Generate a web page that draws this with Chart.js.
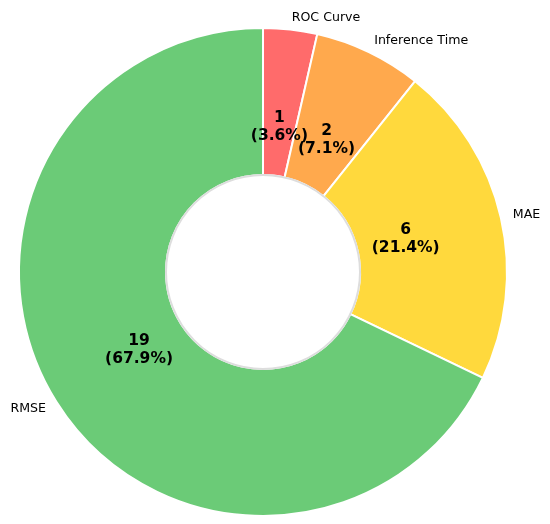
<!DOCTYPE html>
<html>
<head>
<meta charset="utf-8">
<script src="https://cdn.jsdelivr.net/npm/chart.js@4"></script>
<style>
  html, body { margin: 0; padding: 0; background: #fff; }
  #wrap { width: 550px; height: 524px; }
</style>
</head>
<body>
<div id="wrap"><canvas id="chart" width="550" height="524"></canvas></div>
<script>
const labels = ["ROC Curve", "Inference Time", "MAE", "RMSE"];
const counts = [1, 2, 6, 19];
const colors = ["#FF6B6B", "#FFA94D", "#FFD93D", "#6BCB77"];

const total = counts.reduce((a, b) => a + b, 0);

// labels outside the ring + count/percent inside each wedge
const sliceLabels = {
  id: "sliceLabels",
  afterDatasetsDraw(chart) {
    const ctx = chart.ctx;
    const meta = chart.getDatasetMeta(0);
    meta.data.forEach((arc, i) => {
      const mid = (arc.startAngle + arc.endAngle) / 2;
      const cos = Math.cos(mid), sin = Math.sin(mid);
      const R = arc.outerRadius;

      // outer category label
      const lx = arc.x + cos * R * 1.05;
      const ly = arc.y + sin * R * 1.05;
      ctx.save();
      ctx.font = "12.6px 'DejaVu Sans'";
      ctx.fillStyle = "#000";
      ctx.textBaseline = "middle";
      ctx.textAlign = cos >= 0 ? "left" : "right";
      ctx.fillText(labels[i], lx, ly);

      // inner value label
      const vx = arc.x + cos * R * 0.6;
      const vy = arc.y + sin * R * 0.6;
      const pct = (counts[i] / total * 100).toFixed(1);
      ctx.font = "bold 15.5px 'DejaVu Sans'";
      ctx.textAlign = "center";
      ctx.fillText(String(counts[i]), vx, vy - 9);
      ctx.fillText("(" + pct + "%)", vx, vy + 9);
      ctx.restore();
    });

    // white centre disc with grey rim
    const a = meta.data[0];
    ctx.save();
    ctx.beginPath();
    ctx.arc(a.x, a.y, a.innerRadius, 0, Math.PI * 2);
    ctx.fillStyle = "#fff";
    ctx.fill();
    ctx.lineWidth = 2;
    ctx.strokeStyle = "#dddddd";
    ctx.stroke();
    ctx.restore();
  }
};

new Chart(document.getElementById("chart"), {
  type: "doughnut",
  data: {
    labels: labels,
    datasets: [{
      data: counts,
      backgroundColor: colors,
      borderColor: "#ffffff",
      borderWidth: 2
    }]
  },
  options: {
    responsive: false,
    animation: false,
    cutout: 97,
    layout: { padding: { left: 18, right: 42, top: 27, bottom: 7 } },
    plugins: {
      legend: { display: false },
      tooltip: { enabled: false }
    }
  },
  plugins: [sliceLabels]
});
</script>
</body>
</html>
